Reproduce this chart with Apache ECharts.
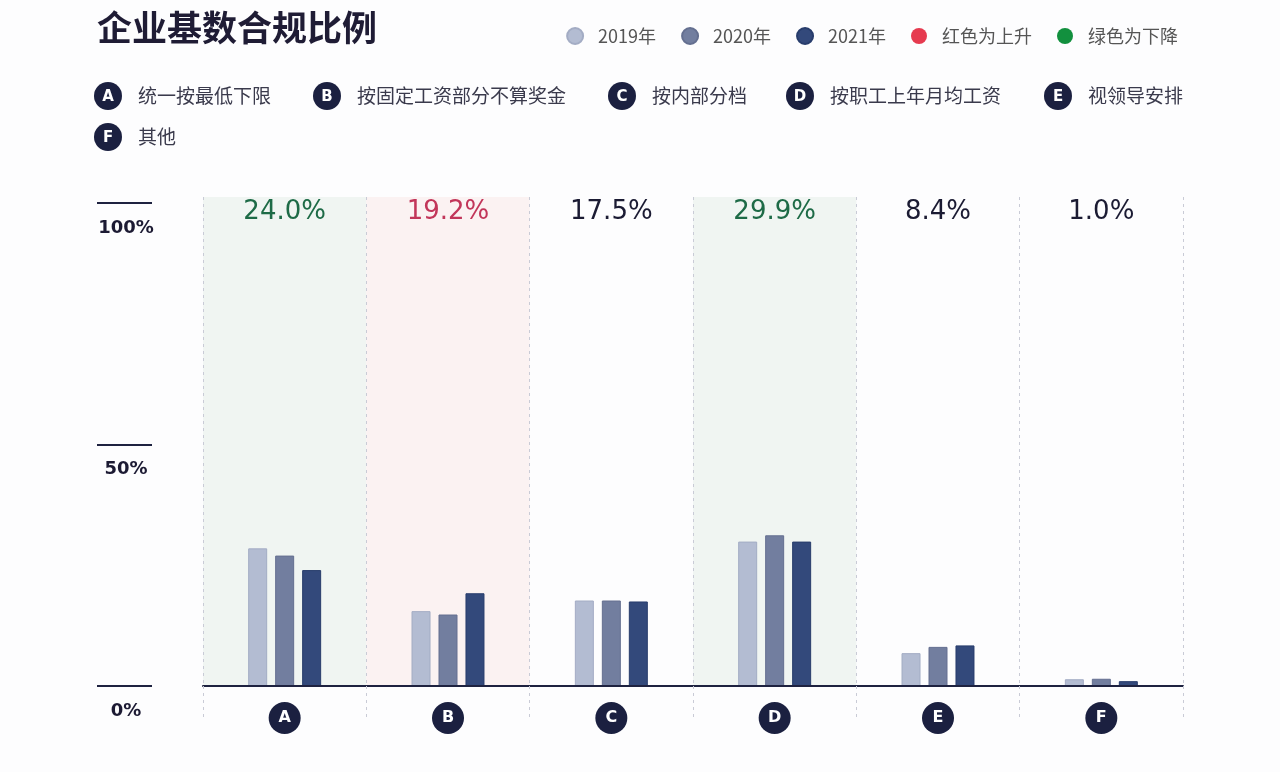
<!DOCTYPE html>
<html><head><meta charset="utf-8">
<script src="https://cdn.jsdelivr.net/npm/echarts@6/dist/echarts.min.js"></script>
<style>html,body{margin:0;padding:0;background:#fdfdfe}#c{width:1280px;height:772px}</style>
</head><body><div id="c"></div>
<script>
// ---- data ----
const categories = ['A', 'B', 'C', 'D', 'E', 'F'];
const categoryNames = ['统一按最低下限', '按固定工资部分不算奖金', '按内部分档', '按职工上年月均工资', '视领导安排', '其他'];
const values2019 = [28.5, 15.5, 17.7, 29.9, 6.8, 1.4];
const values2020 = [27.0, 14.8, 17.7, 31.2, 8.1, 1.5];
const values2021 = [24.0, 19.2, 17.5, 29.9, 8.4, 1.0];
const trend = ['down', 'up', 'flat', 'down', 'flat', 'flat'];
const seriesNames = ['2019年', '2020年', '2021年'];
const trendLegend = ['红色为上升', '绿色为下降'];

// ---- styles / layout ----
const barColors = ['#b3bcd2', '#727e9f', '#33497b'];
const barBorders = ['#a3acc4', '#646f90', '#283d6c'];
const bandColor = { up: '#fbf2f2', down: '#f0f5f2', flat: 'rgba(0,0,0,0)' };
const labelColor = { up: '#c2365a', down: '#1e6b47', flat: '#1b1b33' };
const navy = '#1b2040';
const legendSlots = [[108, 96], [327, 96], [622, 96], [800, 96], [1058, 96], [108, 137]];

const chart = echarts.init(document.getElementById('c'));

const graphics = [];
categories.forEach((c, i) => {
  const [x, y] = legendSlots[i];
  graphics.push({ type: 'circle', shape: { cx: x, cy: y, r: 14 }, style: { fill: navy }, z: 10 });
  graphics.push({ type: 'text', x: x, y: y + 1, z: 11,
    style: { text: c, fill: '#fff', font: 'bold 15px "DejaVu Sans"', align: 'center', verticalAlign: 'middle' } });
  graphics.push({ type: 'text', x: x + 30, y: y, z: 11,
    style: { text: categoryNames[i], fill: '#3a3a4c', font: '19px "Noto Sans CJK SC"', align: 'left', verticalAlign: 'middle' } });
});

const option = {
  backgroundColor: '#fdfdfe',
  animation: false,
  title: {
    text: '企业基数合规比例', left: 92, top: 5,
    textStyle: { fontSize: 35, fontWeight: 'bold', color: '#1f1c35', fontFamily: 'Noto Sans CJK SC' }
  },
  legend: {
    top: 22, right: 97, icon: 'circle', itemWidth: 16, itemHeight: 16, itemGap: 25,
    selectedMode: false,
    data: seriesNames.concat(trendLegend),
    textStyle: { fontSize: 18, color: '#555', fontFamily: 'Noto Sans CJK SC', padding: [0, 0, 0, 10] }
  },
  graphic: graphics,
  grid: [
    { left: 203, right: 97, top: 203, bottom: 86 },
    { left: 203, right: 97, top: 197, bottom: 86 }
  ],
  xAxis: [
    {
      type: 'category', data: categories, gridIndex: 0, z: 6,
      axisLine: { lineStyle: { color: '#1e2240', width: 2 } },
      axisTick: { show: true, length: 34, interval: 0, lineStyle: { color: '#c9cbd6', type: [3, 4], width: 1 } },
      axisLabel: {
        interval: 0, margin: 16,
        formatter: v => '{c|' + v + '}',
        rich: { c: { width: 32, height: 32, lineHeight: 32, borderRadius: 16, backgroundColor: navy,
          color: '#fff', align: 'center', fontWeight: 'bold', fontSize: 16, fontFamily: 'DejaVu Sans' } }
      }
    },
    {
      type: 'category', data: categories, gridIndex: 1, z: 3,
      axisLine: { show: false }, axisTick: { show: false }, axisLabel: { show: false },
      splitLine: { show: true, interval: 0, lineStyle: { color: '#c9cbd6', type: [3, 4], width: 1 } }
    }
  ],
  yAxis: [
    {
      type: 'value', gridIndex: 0, min: 0, max: 100, interval: 50, position: 'left', offset: 51,
      axisLine: { show: false }, splitLine: { show: false },
      axisTick: { show: true, length: 55, lineStyle: { color: '#1e2240', width: 2 } },
      axisLabel: { formatter: '{value}%', align: 'center', margin: 26, verticalAlign: 'top', padding: [16, 0, 0, 0],
        color: '#1c1a33', fontSize: 18, fontWeight: 'bold', fontFamily: 'DejaVu Sans' }
    },
    { type: 'value', gridIndex: 1, min: 0, max: 1, show: false }
  ],
  series: [
    {
      name: 'band', type: 'bar', xAxisIndex: 1, yAxisIndex: 1, barWidth: '100%', z: 1, silent: true,
      data: categories.map((c, i) => ({ value: 1, itemStyle: { color: bandColor[trend[i]] }, label: { color: labelColor[trend[i]] } })),
      label: { show: true, position: 'insideTop', distance: 2, fontSize: 26, fontFamily: 'DejaVu Sans',
        formatter: p => values2021[p.dataIndex].toFixed(1) + '%' }
    },
    ...[values2019, values2020, values2021].map((vals, k) => ({
      name: seriesNames[k], type: 'bar', xAxisIndex: 0, yAxisIndex: 0, z: 5,
      barWidth: 19, barGap: '42%', data: vals,
      itemStyle: { color: barColors[k], borderColor: barBorders[k], borderWidth: 1 }
    })),
    { name: trendLegend[0], type: 'scatter', data: [], itemStyle: { color: '#e63a4f', opacity: 1 } },
    { name: trendLegend[1], type: 'scatter', data: [], itemStyle: { color: '#12903e', opacity: 1 } }
  ]
};
chart.setOption(option);
</script></body></html>
